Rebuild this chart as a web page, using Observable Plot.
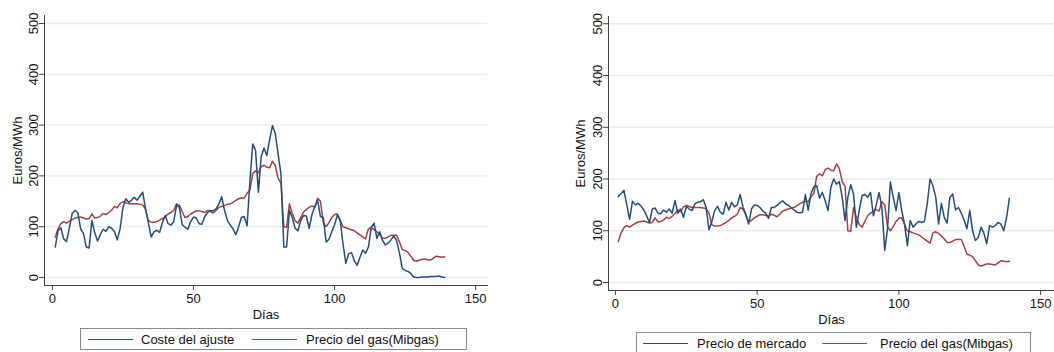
<!DOCTYPE html>
<html>
<head>
<meta charset="utf-8">
<script src="https://cdn.jsdelivr.net/npm/d3@7"></script>
<script src="https://cdn.jsdelivr.net/npm/@observablehq/plot@0.6"></script>
<style>
  body { margin: 0; background: #fff; font-family: "Liberation Sans", Arial, sans-serif; }
  #wrap { position: relative; width: 1054px; height: 352px; overflow: hidden; background: #fff; }
  .panel { position: absolute; top: 0; }
  .legend { position: absolute; border: 1px solid #8a8a8a; background: #fff; height: 22px; font-size: 13px; color: #111; box-sizing: border-box; }
  .legend .sw { position: absolute; top: 10px; height: 0; border-top: 1.6px solid; width: 45px; }
  .legend .tx { position: absolute; top: 3px; white-space: nowrap; line-height: 15px; }
</style>
</head>
<body>
<div id="wrap">
  <div class="panel" id="left" style="left:0"></div>
  <div class="panel" id="right" style="left:527px"></div>
  <div class="legend" id="legL" style="left:80px; top:328px; width:387px;"></div>
  <div class="legend" id="legR" style="left:636px; top:332px; width:395px;"></div>
</div>
<script>
// ---------- data ----------
const dayCount = 139;
const days = Array.from({length: dayCount}, (_, i) => i + 1);

// Precio del gas (Mibgas), €/MWh (same series in both panels)
const gasPrice = [
  79, 96, 106, 110, 107, 111, 114, 117, 118, 119,
  117, 115, 116, 125, 117, 118, 121, 126, 124, 128,
  133, 140, 137, 146, 149, 147, 145, 145, 145, 145,
  144, 143, 134, 112, 109, 109, 110, 113, 116, 120,
  125, 128, 132, 145, 142, 130, 118, 120, 125, 128,
  131, 131, 130, 128, 132, 130, 127, 132, 138, 140,
  142, 144, 145, 148, 152, 155, 157, 156, 166, 172,
  205, 210, 206, 218, 221, 217, 216, 229, 220, 195,
  186, 100, 99, 145, 126, 112, 107, 118, 129, 134,
  138, 141, 138, 156, 150, 108, 100, 108, 118, 124,
  125, 112, 100, 98, 96, 94, 92, 88, 84, 80,
  76, 96, 98, 95, 90, 84, 78, 77, 80, 83,
  83, 83, 70, 55, 53, 50, 42, 34, 32, 34,
  36, 36, 35, 34, 38, 42, 41, 40, 41
];

// Coste del ajuste, €/MWh
const adjustCost = [
  60, 92, 98, 76, 71, 97, 126, 132, 128, 96,
  87, 60, 58, 112, 88, 72, 85, 95, 91, 100,
  97, 90, 74, 96, 138, 155, 148, 152, 158, 152,
  160, 168, 135, 108, 80, 90, 93, 89, 108, 122,
  106, 103, 110, 142, 138, 104, 99, 95, 110, 119,
  117, 106, 105, 120, 128, 132, 131, 135, 145, 159,
  132, 113, 103, 96, 84, 100, 118, 120, 102, 190,
  263, 250, 168, 238, 255, 240, 272, 299, 283, 243,
  204, 60, 60, 132, 118, 97, 92, 112, 122, 121,
  97, 124, 140, 152, 120, 118, 70, 75, 90, 104,
  123, 112, 66, 28, 47, 49, 33, 24, 40, 54,
  48, 60, 99, 107, 77, 90, 73, 64, 68, 74,
  82, 72, 48, 18, 14, 12, 8, 1, 0, 0,
  1, 1, 1, 2, 2, 2, 3, 1, 0
];

// Precio de mercado, €/MWh
const marketPrice = [
  166, 172, 178, 150, 122, 157, 150, 153, 148, 140,
  129, 116, 142, 144, 134, 133, 140, 136, 142, 134,
  158, 134, 142, 126, 147, 142, 139, 152, 155, 156,
  160, 145, 102, 118, 139, 147, 136, 132, 155, 140,
  155, 146, 150, 170, 146, 132, 113, 142, 150, 149,
  145, 138, 134, 124, 145, 145, 149, 154, 158, 152,
  149, 145, 140, 136, 135, 136, 170, 140, 172, 185,
  187, 163, 174, 158, 139, 184, 200, 190, 195, 165,
  120, 165, 189, 171, 107, 139, 168, 170, 165, 174,
  129, 150, 174, 145, 62, 104, 194, 165, 139, 174,
  139, 113, 71, 120, 107, 113, 118, 116, 118, 152,
  200, 187, 165, 113, 153, 126, 115, 165, 171, 140,
  145, 134, 121, 104, 139, 100, 81, 87, 107, 95,
  75, 110, 107, 110, 116, 113, 100, 126, 163
];

const xTicks = [0, 50, 100, 150];
const yTicks = [0, 100, 200, 300, 400, 500];
const xTitle = "Días";
const yTitle = "Euros/MWh";
const gasLabel = "Precio del gas(Mibgas)";
const costLabel = "Coste del ajuste";
const marketLabel = "Precio de mercado";

const BLUE = "#234f7a";
const RED = "#a3414a";

function panel({main, width, height, marginLeft, marginRight, marginTop, marginBottom, xDomain, yDomain, yLabelOffset, xLabelOffset}) {
  return Plot.plot({
    width, height, marginLeft, marginRight, marginTop, marginBottom,
    style: {fontFamily: "'Liberation Sans', Arial, sans-serif", fontSize: "13px", color: "#111", background: "transparent", overflow: "visible"},
    x: {domain: xDomain},
    y: {domain: yDomain},
    marks: [
      Plot.gridY(yTicks, {stroke: "#e4edf0", strokeOpacity: 1, strokeWidth: 1.3}),
      Plot.frame({anchor: "left", stroke: "#444"}),
      Plot.frame({anchor: "bottom", stroke: "#444"}),
      Plot.axisY(yTicks, {tickRotate: -90, tickSize: 5, tickPadding: 2, stroke: "#444", fill: "#111", fontSize: 13,
        label: yTitle, labelAnchor: "center", labelArrow: "none", labelOffset: yLabelOffset}),
      Plot.axisX(xTicks, {tickSize: 5, tickPadding: 3, stroke: "#444", fill: "#111", fontSize: 13,
        label: xTitle, labelAnchor: "center", labelArrow: "none", labelOffset: xLabelOffset}),
      Plot.line(days, {x: d => d, y: (d, i) => gasPrice[i], stroke: RED, strokeWidth: 1.5}),
      Plot.line(days, {x: d => d, y: (d, i) => main[i], stroke: BLUE, strokeWidth: 1.5})
    ]
  });
}

document.getElementById("left").append(panel({
  main: adjustCost, width: 527, height: 330,
  marginLeft: 44, marginRight: 40, marginTop: 15, marginBottom: 45,
  xDomain: [-2.8, 154.2], yDomain: [-15.7, 515.7], yLabelOffset: 32, xLabelOffset: 33
}));

document.getElementById("right").append(panel({
  main: marketPrice, width: 527, height: 330,
  marginLeft: 81, marginRight: 0, marginTop: 16, marginBottom: 40,
  xDomain: [-2.45, 154.9], yDomain: [-15.4, 514], yLabelOffset: 33, xLabelOffset: 33
}));

function legend(el, items) {
  for (const it of items) {
    const sw = document.createElement("div");
    sw.className = "sw";
    sw.style.left = it.sx + "px";
    sw.style.borderTopColor = it.color;
    el.append(sw);
    const tx = document.createElement("div");
    tx.className = "tx";
    tx.style.left = it.tx + "px";
    tx.textContent = it.label;
    el.append(tx);
  }
}
legend(document.getElementById("legL"), [
  {sx: 7, tx: 60, color: BLUE, label: costLabel},
  {sx: 171, tx: 225, color: RED, label: gasLabel}
]);
legend(document.getElementById("legR"), [
  {sx: 6, tx: 60, color: BLUE, label: marketLabel},
  {sx: 185, tx: 243, color: RED, label: gasLabel}
]);
</script>
</body>
</html>
